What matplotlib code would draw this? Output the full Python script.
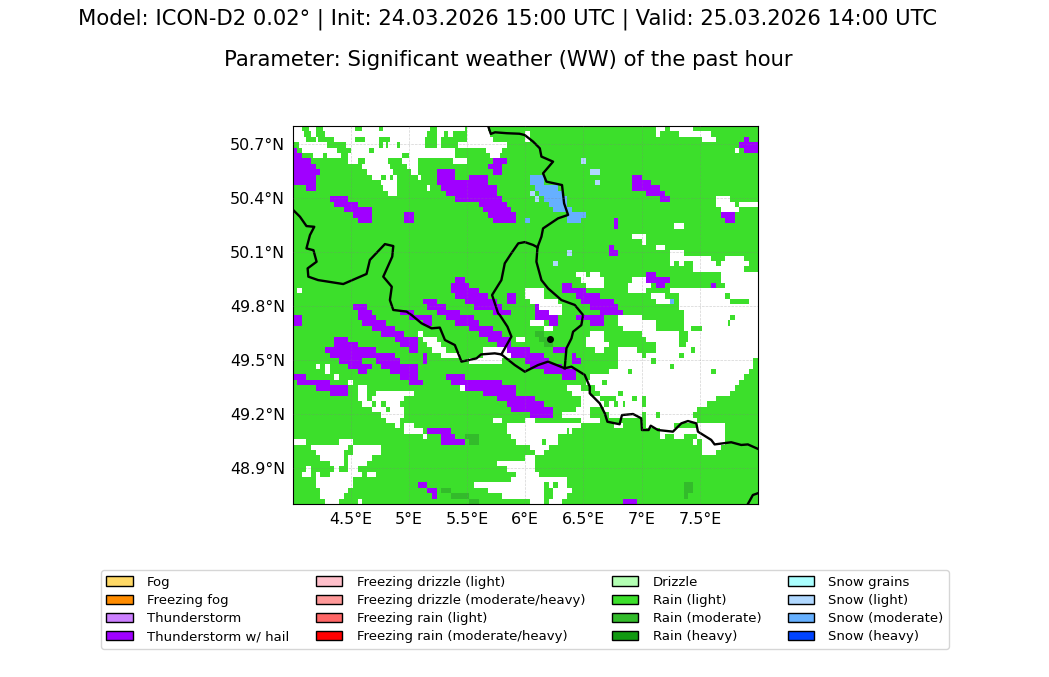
import numpy as np
import matplotlib
matplotlib.use("Agg")
import matplotlib.pyplot as plt
from matplotlib.colors import ListedColormap, BoundaryNorm
from matplotlib.patches import Patch

title_1 = "Model: ICON-D2 0.02° | Init: 24.03.2026 15:00 UTC | Valid: 25.03.2026 14:00 UTC"
title_2 = "Parameter: Significant weather (WW) of the past hour"

lon_ticks = [4.5, 5.0, 5.5, 6.0, 6.5, 7.0, 7.5]
lon_labels = ["4.5°E", "5°E", "5.5°E", "6°E", "6.5°E", "7°E", "7.5°E"]
lat_ticks = [48.9, 49.2, 49.5, 49.8, 50.1, 50.4, 50.7]
lat_labels = ["48.9°N", "49.2°N", "49.5°N", "49.8°N", "50.1°N", "50.4°N", "50.7°N"]

legend_names = ["Fog", "Freezing fog", "Thunderstorm", "Thunderstorm w/ hail",
                "Freezing drizzle (light)", "Freezing drizzle (moderate/heavy)",
                "Freezing rain (light)", "Freezing rain (moderate/heavy)",
                "Drizzle", "Rain (light)", "Rain (moderate)", "Rain (heavy)",
                "Snow grains", "Snow (light)", "Snow (moderate)", "Snow (heavy)"]
legend_colors = ["#ffd966", "#ff8c00", "#cc80ff", "#a000ff",
                 "#ffc0cb", "#ff9999", "#ff6666", "#ff0000",
                 "#b3ffb3", "#3cdf2b", "#33bb2b", "#119911",
                 "#aaffff", "#b0d8ff", "#66b0ff", "#0044ff"]

# field cells: row from the top, then (first col, last col), 100 cols x 70 rows
no_weather = {
    0: [(78, 79), (81, 85)],
    1: [(50, 50), (78, 78), (83, 89)],
    2: [(50, 50), (88, 90)],
    4: [(95, 95)],
    13: [(91, 93)],
    14: [(91, 93), (94, 94), (96, 99)],
    15: [(92, 93), (94, 95)],
    18: [(82, 83)],
    20: [(73, 73), (74, 75)],
    21: [(75, 75)],
    22: [(78, 79)],
    23: [(81, 83)],
    24: [(81, 84), (85, 89), (93, 96)],
    25: [(81, 81), (83, 83), (86, 90), (92, 97)],
    26: [(86, 88), (89, 96)],
    27: [(61, 62), (64, 65), (92, 99)],
    28: [(62, 66), (73, 75), (92, 99)],
    29: [(63, 66), (72, 76), (78, 79), (93, 99)],
    30: [(1, 1), (50, 53), (72, 75), (81, 83), (84, 92), (93, 99)],
    31: [(50, 53), (77, 79), (83, 92), (94, 99)],
    32: [(51, 56), (78, 80), (83, 93), (98, 99)],
    33: [(52, 57), (83, 99)],
    34: [(55, 57), (84, 99)],
    35: [(70, 74), (84, 99)],
    36: [(51, 53), (70, 77), (84, 99)],
    37: [(54, 55), (71, 77), (84, 99)],
    38: [(27, 27), (64, 66), (75, 82), (85, 99)],
    39: [(28, 30), (48, 49), (63, 66), (76, 82), (85, 99)],
    40: [(29, 31), (63, 67), (78, 82), (84, 99)],
    41: [(30, 32), (41, 45), (65, 66), (70, 73), (78, 99)],
    42: [(32, 32), (33, 35), (41, 46), (70, 74), (76, 99)],
    43: [(38, 44), (70, 76), (78, 98)],
    44: [(5, 5), (7, 7), (70, 98)],
    45: [(7, 7), (68, 71), (73, 97)],
    46: [(9, 9), (64, 96)],
    47: [(12, 12), (63, 95)],
    48: [(14, 15), (36, 36), (59, 61), (65, 94)],
    49: [(14, 15), (18, 25), (60, 63), (66, 93)],
    50: [(14, 15), (17, 23), (62, 65), (67, 90)],
    51: [(15, 16), (18, 23), (62, 66), (68, 88)],
    52: [(17, 19), (21, 23), (61, 63), (67, 86)],
    53: [(19, 23), (58, 63), (68, 85)],
    54: [(20, 22), (43, 44), (50, 51), (62, 65), (76, 86)],
    55: [(22, 22), (24, 25), (46, 61), (69, 70), (76, 81), (87, 92)],
    56: [(24, 27), (46, 59), (79, 82), (83, 92)],
    57: [(28, 28), (47, 56), (79, 79), (82, 83), (87, 92)],
    58: [(0, 2), (10, 12), (48, 56), (86, 86), (88, 92)],
    59: [(4, 11), (13, 18), (51, 54), (88, 91)],
    60: [(5, 10), (13, 18), (52, 53), (88, 90)],
    61: [(6, 10), (12, 16), (50, 51)],
    62: [(8, 10), (12, 15), (44, 51)],
    63: [(3, 3), (9, 9), (12, 13), (46, 51)],
    64: [(2, 3), (5, 5), (8, 14), (16, 17), (48, 52)],
    65: [(5, 12), (47, 58)],
    66: [(5, 12), (39, 53), (55, 55), (57, 58)],
    67: [(6, 11), (42, 53), (56, 59)],
    68: [(6, 10), (45, 53), (56, 58)],
    69: [(7, 9), (14, 14), (51, 53), (55, 57)],
}

# finer spans for the clear area in the north west, (from col, to col)
no_weather_nw = {
    0: [(0, 2), (3.5, 5), (6.5, 13.5), (15, 18.5), (19.5, 29.5), (31, 37), (37.5, 42)],
    1: [(0, 2.5), (4, 5), (7, 29), (31, 32.5), (33.5, 34.5), (37.5, 42.5)],
    2: [(0, 3), (5, 5.5), (9, 13.5), (15.5, 18.5), (21, 28.5), (31, 32), (37.5, 43)],
    3: [(1.5, 7.5), (11.5, 18.5), (19.5, 20), (20.5, 22.5), (23, 28.5), (31, 32), (35.5, 46)],
    4: [(2, 9.5), (12.5, 16.5), (17.5, 35), (41.5, 45)],
    5: [(4.5, 6.5), (7.5, 10.5), (12, 23.5), (25, 35), (42.5, 44.5)],
    6: [(12, 14), (15.5, 20.5), (23.5, 27), (34.5, 37.5)],
    7: [(15, 21), (24.5, 27)],
    8: [(16, 21.5), (25.5, 27)],
    9: [(17, 19), (20, 21), (21.5, 22.5), (27, 27.5)],
    10: [(19, 22.5)],
    11: [(19.5, 22.5), (29, 29.5)],
    12: [(20.5, 22.5)],
}

# rain specks inside the clear areas, (from col, to col)
rain_specks = {
    35: [(94, 95)],
    36: [(93.5, 94)],
    37: [(85.5, 88)],
    39: [(84, 85)],
    40: [(83.5, 84.5)],
    41: [(85.5, 86.5)],
    42: [(83, 84)],
    43: [(77, 78)],
    44: [(81, 82)],
    45: [(90, 91), (72, 73)],
    47: [(66.5, 67.5)],
    49: [(70, 71)],
    50: [(16, 17), (67, 69.5), (73, 74), (75, 76)],
    51: [(19, 20), (23, 24), (69, 70), (71, 71.5), (75, 76)],
    52: [(60, 61), (65, 66)],
    53: [(75, 76), (78, 79)],
    54: [(61, 62)],
    56: [(59, 59.5)],
    58: [(53.5, 54.5)],
}

hail = {
    2: [(97, 97)],
    3: [(96, 99)],
    4: [(0, 0), (97, 99)],
    5: [(0, 1)],
    6: [(0, 3), (43, 45)],
    7: [(0, 4), (42, 44)],
    8: [(0, 5), (31, 34), (43, 44)],
    9: [(0, 4), (31, 34), (38, 41), (73, 74)],
    10: [(0, 4), (31, 41), (73, 76)],
    11: [(3, 4), (32, 43), (73, 78)],
    12: [(33, 43), (76, 79)],
    13: [(8, 11), (35, 44), (79, 80)],
    14: [(9, 13), (40, 45)],
    15: [(11, 16), (41, 46)],
    16: [(13, 16), (24, 25), (42, 47), (92, 94)],
    17: [(14, 16), (24, 25), (43, 47), (69, 69), (93, 94)],
    18: [(69, 69)],
    22: [(68, 68)],
    23: [(68, 69)],
    27: [(76, 77)],
    28: [(35, 36), (76, 80)],
    29: [(34, 37), (58, 59), (78, 79), (90, 90)],
    30: [(34, 39), (58, 62)],
    31: [(35, 41), (46, 47), (61, 65)],
    32: [(28, 30), (37, 43), (46, 47), (62, 68)],
    33: [(13, 15), (29, 32), (39, 44), (52, 52), (64, 69)],
    34: [(14, 16), (23, 25), (31, 35), (43, 46), (52, 54), (66, 70)],
    35: [(0, 1), (14, 17), (25, 29), (33, 38), (52, 56), (61, 66)],
    36: [(0, 1), (15, 19), (28, 29), (35, 39), (55, 56), (64, 66)],
    37: [(17, 21), (38, 42)],
    38: [(19, 23), (40, 44)],
    39: [(9, 11), (22, 26), (42, 46)],
    40: [(9, 13), (23, 26), (44, 46)],
    41: [(7, 17), (25, 26), (46, 50), (56, 58)],
    42: [(8, 21), (28, 28), (47, 53), (60, 60)],
    43: [(10, 14), (18, 22), (28, 28), (50, 54), (60, 61)],
    44: [(12, 16), (19, 26), (51, 57)],
    45: [(14, 15), (21, 26), (54, 60)],
    46: [(0, 2), (23, 26), (33, 36), (58, 60)],
    47: [(1, 7), (25, 27), (34, 44)],
    48: [(5, 11), (37, 47)],
    49: [(8, 11), (41, 47)],
    50: [(44, 51)],
    51: [(46, 53)],
    52: [(47, 55)],
    53: [(51, 55)],
    56: [(29, 33)],
    57: [(32, 34)],
    58: [(32, 36)],
    66: [(27, 28)],
    67: [(29, 30)],
    68: [(30, 30)],
    69: [(71, 73)],
}

snow_mod = {
    9: [(51, 53)],
    10: [(51, 53)],
    11: [(52, 56)],
    12: [(53, 57)],
    13: [(54, 58)],
    14: [(55, 58)],
    15: [(56, 59)],
    16: [(59, 62)],
    17: [(50, 50), (59, 61)],
    32: [(81, 81)],
}

snow_light = {
    6: [(62, 62)],
    8: [(64, 65)],
    10: [(65, 65)],
    12: [(51, 51)],
    13: [(52, 52)],
    23: [(59, 59)],
    25: [(56, 56)],
}

rain_mod = {
    38: [(52, 53)],
    39: [(53, 54)],
    40: [(54, 55)],
    57: [(37, 39)],
    58: [(38, 39)],
    66: [(84, 85)],
    67: [(32, 33), (84, 85)],
    68: [(34, 37), (84, 84)],
    69: [(38, 39)],
}

# borders, lon / lat
border_west_lon = [4.0, 4.064, 4.12, 4.187, 4.15, 4.12, 4.18, 4.207, 4.13, 4.136, 4.22, 4.436, 4.636, 4.665,
                   4.794, 4.866, 4.857, 4.78, 4.853, 4.837, 4.866, 4.98, 5.023, 5.109, 5.195, 5.266, 5.31,
                   5.395, 5.452, 5.581, 5.62, 5.738, 5.795, 5.91, 5.996, 6.11, 6.196, 6.339, 6.397, 6.511,
                   6.554, 6.554, 6.64, 6.683, 6.706, 6.811, 6.831, 6.926, 6.997, 7.003, 7.06, 7.078, 7.14,
                   7.269, 7.341, 7.398, 7.47, 7.484, 7.598, 7.627, 7.77, 7.856, 7.913, 8.0]
border_west_lat = [50.337, 50.296, 50.244, 50.24, 50.194, 50.12, 50.11, 50.046, 50.009, 49.963, 49.944, 49.922,
                   49.978, 50.056, 50.144, 50.133, 50.074, 49.963, 49.907, 49.833, 49.778, 49.769, 49.75,
                   49.704, 49.676, 49.68, 49.611, 49.583, 49.491, 49.509, 49.531, 49.537, 49.531, 49.472,
                   49.435, 49.472, 49.491, 49.454, 49.463, 49.417, 49.352, 49.315, 49.259, 49.204, 49.157,
                   49.143, 49.194, 49.2, 49.176, 49.111, 49.111, 49.135, 49.111, 49.102, 49.148, 49.161,
                   49.148, 49.102, 49.056, 49.031, 49.043, 49.028, 49.031, 49.006]
border_lux_lon = [5.795, 5.881, 5.847, 5.781, 5.767, 5.715, 5.795, 5.824, 5.881, 5.94, 5.996, 6.068, 6.105]
border_lux_lat = [49.531, 49.63, 49.685, 49.75, 49.759, 49.861, 49.944, 50.037, 50.093, 50.148, 50.155, 50.139, 50.126]
border_ger_lon = [6.105, 6.096, 6.139, 6.196, 6.311, 6.425, 6.497, 6.482, 6.411, 6.397, 6.354, 6.339]
border_ger_lat = [50.126, 50.046, 49.944, 49.898, 49.833, 49.806, 49.75, 49.694, 49.657, 49.62, 49.565, 49.454]
border_north_lon = [6.105, 6.139, 6.153, 6.282, 6.368, 6.334, 6.316, 6.182, 6.153, 6.239, 6.139, 6.125, 6.068,
                    5.995, 5.95, 5.84, 5.74, 5.704, 5.681]
border_north_lat = [50.126, 50.185, 50.231, 50.287, 50.306, 50.37, 50.472, 50.491, 50.537, 50.602, 50.63, 50.676,
                    50.713, 50.75, 50.757, 50.76, 50.765, 50.756, 50.8]
border_corner_lon = [7.913, 7.956, 8.0]
border_corner_lat = [48.70, 48.75, 48.76]
city_lon = 6.21
city_lat = 49.617


# the field is held on half columns so the finer spans fit
def fill_cells(field, spans, code):
    for row, cols in spans.items():
        for a, b in cols:
            field[row, a * 2:(b + 1) * 2] = code


def fill_fine(field, spans, code):
    for row, cols in spans.items():
        for a, b in cols:
            field[row, int(a * 2):int(b * 2)] = code


field = np.full((70, 200), 1.0)
fill_cells(field, no_weather, np.nan)
fill_fine(field, no_weather_nw, np.nan)
fill_fine(field, rain_specks, 1)
fill_cells(field, rain_mod, 2)
fill_cells(field, hail, 3)
fill_cells(field, snow_mod, 4)
fill_cells(field, snow_light, 5)

fig = plt.figure(figsize=(10.49, 6.77), dpi=100)
ax = fig.add_axes([292.5 / 1049, 1 - 504 / 677, 465.5 / 1049, 378 / 677])

lon_edges = np.linspace(4.0, 8.0, 201)
lat_edges = np.linspace(50.8, 48.7, 71)
cmap = ListedColormap(["#3cdf2b", "#33bb2b", "#a000ff", "#66b0ff", "#b0d8ff"])
cmap.set_bad("white")
norm = BoundaryNorm([0.5, 1.5, 2.5, 3.5, 4.5, 5.5], 5)
ax.pcolormesh(lon_edges, lat_edges, np.ma.masked_invalid(field), cmap=cmap, norm=norm)

ax.set_xlim(4.0, 8.0)
ax.set_ylim(48.7, 50.8)
ax.set_xticks(lon_ticks)
ax.set_xticklabels(lon_labels)
ax.set_yticks(lat_ticks)
ax.set_yticklabels(lat_labels)
ax.tick_params(length=0, labelsize=11.4, pad=5.5)
ax.grid(True, color="gray", linewidth=0.5, linestyle="--", alpha=0.35)
ax.set_axisbelow(False)

ax.plot(border_west_lon, border_west_lat, color="k", lw=1.7)
ax.plot(border_lux_lon, border_lux_lat, color="k", lw=1.7)
ax.plot(border_ger_lon, border_ger_lat, color="k", lw=1.7)
ax.plot(border_north_lon, border_north_lat, color="k", lw=1.7)
ax.plot(border_corner_lon, border_corner_lat, color="k", lw=1.7)
ax.plot(city_lon, city_lat, "o", color="k", ms=4)

fig.text(508 / 1049, 1 - 19 / 677, title_1, ha="center", va="center", fontsize=15.2)
fig.text(508 / 1049, 1 - 60 / 677, title_2, ha="center", va="center", fontsize=15.2)

handles = [Patch(facecolor=c, edgecolor="k", label=n) for c, n in zip(legend_colors, legend_names)]
fig.legend(handles=handles, ncol=4, loc="center", bbox_to_anchor=(525 / 1049, 1 - 609.5 / 677),
           fontsize=9.5, columnspacing=2.0, handlelength=2.0, handletextpad=1.1, labelspacing=0.4)

fig.savefig("out.png", dpi=100)
